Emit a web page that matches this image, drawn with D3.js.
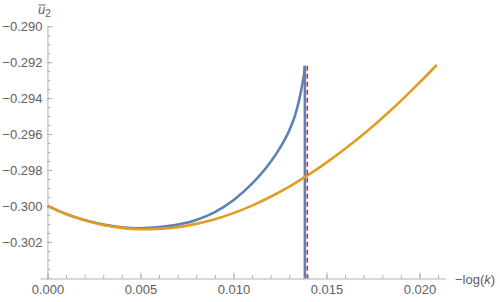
<!DOCTYPE html>
<html>
<head>
<meta charset="utf-8">
<script src="https://cdn.jsdelivr.net/npm/d3@7"></script>
<style>
  body { margin: 0; background: #fff; }
  svg { display: block; font-family: "Liberation Sans", Arial, sans-serif; }
</style>
</head>
<body>
<svg id="chart"></svg>
<script>
// values
const orangeX = [0, 0.001, 0.002, 0.003, 0.004, 0.005, 0.006, 0.007, 0.008, 0.009, 0.010,
                 0.011, 0.012, 0.013, 0.014, 0.015, 0.016, 0.017, 0.018, 0.019, 0.020, 0.02093];
const orangeY = [-0.30000, -0.30045, -0.30080, -0.30106, -0.30122, -0.30130, -0.30128, -0.30119,
                 -0.30100, -0.30074, -0.30040, -0.29998, -0.29949, -0.29893, -0.29829, -0.29759,
                 -0.29682, -0.29599, -0.29510, -0.29415, -0.29314, -0.29215];

const blueX = [0, 0.001, 0.002, 0.003, 0.004, 0.005, 0.006, 0.007, 0.008, 0.009, 0.010,
               0.011, 0.0118, 0.0125, 0.013, 0.0133, 0.0135, 0.0137, 0.0138, 0.01384];
const blueY = [-0.30000, -0.30045, -0.30079, -0.30104, -0.30119, -0.30124, -0.30118, -0.30104,
               -0.30078, -0.30034, -0.29968, -0.29876, -0.29782, -0.29677, -0.29580, -0.29500,
               -0.29424, -0.29324, -0.29262, -0.29220];

// the blue branch drops straight down at the singularity
const blueDrop = [-0.29220, -0.30600];

const dashX = 0.01397;
const dashY = [-0.29220, -0.30600];

const xMajor = [0, 0.005, 0.010, 0.015, 0.020];
const yMajor = [-0.302, -0.300, -0.298, -0.296, -0.294, -0.292, -0.290];

const width = 500;
const height = 302;

const svg = d3.select("#chart")
    .attr("width", width)
    .attr("height", height);

const x = d3.scaleLinear()
    .domain([-0.0004, 0.0214])
    .range([40, 445.5]);

const y = d3.scaleLinear()
    .domain([-0.30404, -0.29005])
    .range([278.5, 27.2]);

const axisColor = "#b0b0b0";
const textColor = "#606060";

const xMinor = d3.range(0, 0.02101, 0.001);
const yMinor = d3.range(-0.3040, -0.28995, 0.0005);

svg.append("defs").append("clipPath")
    .attr("id", "plot-clip")
    .append("rect")
    .attr("x", x.range()[0])
    .attr("y", y.range()[1])
    .attr("width", x.range()[1] - x.range()[0])
    .attr("height", y.range()[0] - y.range()[1]);

// minor ticks
svg.append("g")
    .attr("transform", `translate(0, ${y.range()[0]})`)
    .call(d3.axisBottom(x).tickValues(xMinor).tickSizeInner(-3.5).tickSizeOuter(0).tickFormat(""))
    .call(g => g.select(".domain").remove())
    .call(g => g.selectAll("line").attr("stroke", axisColor));

svg.append("g")
    .attr("transform", `translate(${x(0)}, 0)`)
    .call(d3.axisLeft(y).tickValues(yMinor).tickSizeInner(-3).tickSizeOuter(0).tickFormat(""))
    .call(g => g.select(".domain").remove())
    .call(g => g.selectAll("line").attr("stroke", axisColor));

// major axes
const xAxis = svg.append("g")
    .attr("transform", `translate(0, ${y.range()[0]})`)
    .call(d3.axisBottom(x).tickValues(xMajor).tickSizeInner(-6).tickSizeOuter(0)
        .tickPadding(6).tickFormat(d3.format(".3f")));

const yAxis = svg.append("g")
    .attr("transform", `translate(${x(0)}, 0)`)
    .call(d3.axisLeft(y).tickValues(yMajor).tickSizeInner(-5).tickSizeOuter(0)
        .tickPadding(5).tickFormat(d => d3.format(".3f")(d)));

[xAxis, yAxis].forEach(g => {
    g.select(".domain").attr("stroke", axisColor);
    g.selectAll(".tick line").attr("stroke", axisColor);
    g.selectAll(".tick text")
        .attr("fill", textColor)
        .attr("font-size", 13)
        .attr("font-family", "Liberation Sans, Arial, sans-serif");
});

// curves
const line = d3.line()
    .x(d => x(d[0]))
    .y(d => y(d[1]))
    .curve(d3.curveMonotoneX);

const plot = svg.append("g").attr("clip-path", "url(#plot-clip)");

plot.append("path")
    .datum(blueX.map((v, i) => [v, blueY[i]]))
    .attr("fill", "none")
    .attr("stroke", "#5E81B5")
    .attr("stroke-width", 2.6)
    .attr("d", line);

plot.append("line")
    .attr("x1", x(blueX[blueX.length - 1]))
    .attr("x2", x(blueX[blueX.length - 1]))
    .attr("y1", y(blueDrop[0]))
    .attr("y2", y(blueDrop[1]))
    .attr("stroke", "#5E81B5")
    .attr("stroke-width", 2.6);

plot.append("path")
    .datum(orangeX.map((v, i) => [v, orangeY[i]]))
    .attr("fill", "none")
    .attr("stroke", "#E19C24")
    .attr("stroke-width", 2.6)
    .attr("d", line);

plot.append("line")
    .attr("x1", x(dashX))
    .attr("x2", x(dashX))
    .attr("y1", y(dashY[0]))
    .attr("y2", y(dashY[1]))
    .attr("stroke", "#E0284B")
    .attr("stroke-width", 1.6)
    .attr("stroke-dasharray", "5,3");

// axis labels
const yLabel = svg.append("text")
    .attr("x", 38)
    .attr("y", 14)
    .attr("fill", textColor)
    .attr("font-size", 13);
yLabel.append("tspan").attr("font-style", "italic").text("u");
yLabel.append("tspan").attr("font-size", 10).attr("dy", 2.5).text("2");

svg.append("line")
    .attr("x1", 38.5)
    .attr("x2", 45.5)
    .attr("y1", 5)
    .attr("y2", 5)
    .attr("stroke", textColor)
    .attr("stroke-width", 1);

const xLabel = svg.append("text")
    .attr("x", 455)
    .attr("y", 284)
    .attr("fill", textColor)
    .attr("font-size", 13);
xLabel.append("tspan").text("\u2212log(");
xLabel.append("tspan").attr("font-style", "italic").text("k");
xLabel.append("tspan").text(")");
</script>
</body>
</html>
